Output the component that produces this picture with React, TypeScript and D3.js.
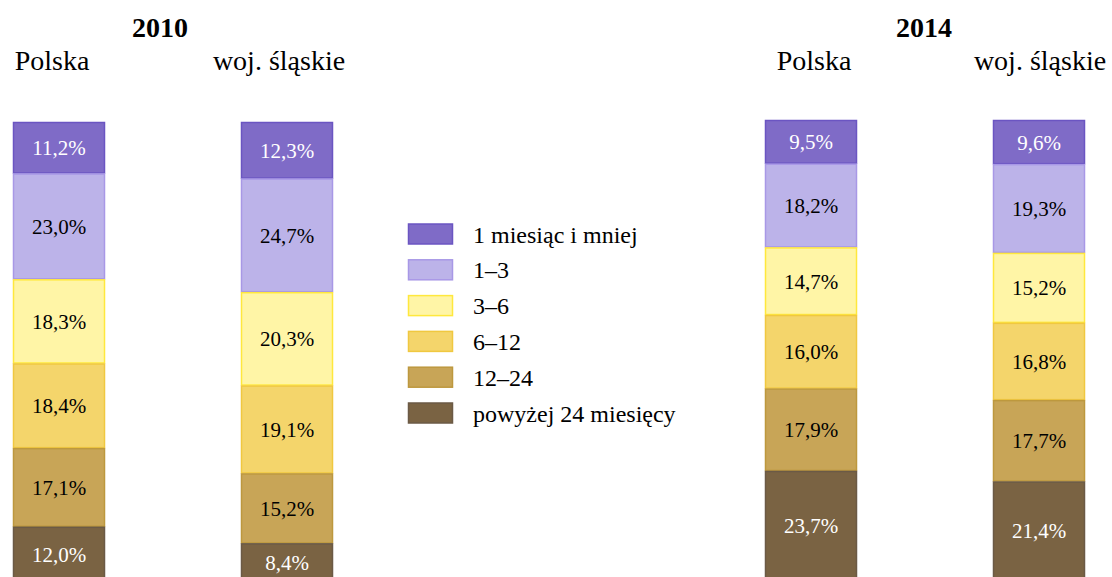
import React from 'react';
import * as d3 from 'd3';

const years = ['2010', '2014'];
const regions = ['Polska', 'woj. śląskie'];
const categories = ['1 miesiąc i mniej', '1–3', '3–6', '6–12', '12–24', 'powyżej 24 miesięcy'];

// shares per category, top to bottom
const pl2010 = [11.2, 23.0, 18.3, 18.4, 17.1, 12.0];
const sl2010 = [12.3, 24.7, 20.3, 19.1, 15.2, 8.4];
const pl2014 = [9.5, 18.2, 14.7, 16.0, 17.9, 23.7];
const sl2014 = [9.6, 19.3, 15.2, 16.8, 17.7, 21.4];

const fills = ['#7f6bc7', '#bcb3e9', '#fff5a6', '#f4d56b', '#c8a557', '#7a6343'];
const strokes = ['#6b55c2', '#a898e6', '#ffe83d', '#f0c840', '#bd983e', '#6b5a46'];
const labelColors = ['#fff', '#000', '#000', '#000', '#000', '#fff'];

const FONT = 'Liberation Serif, Times New Roman, serif';
const fmt = (v: number) => v.toFixed(1).replace('.', ',') + '%';

export default function App() {
  const width = 1112, height = 577;
  const series = [[pl2010, sl2010], [pl2014, sl2014]];

  const xYear = d3.scalePoint<string>().domain(years).range([13, 765]);
  const xRegion = d3.scalePoint<string>().domain(regions).range([0, 228]);
  const barW = 92;
  const topY: Record<string, number> = { '2010': 122, '2014': 120 };
  const y = d3.scaleLinear().domain([0, 100]).range([0, 460]);
  const titleX: Record<string, number> = { '2010': 160, '2014': 924 };
  const headShift: Record<string, number[]> = { '2010': [-7, -8], '2014': [3, 1] };

  const legendY = d3.scalePoint<string>().domain(categories).range([234, 413]);

  return (
    <svg width={width} height={height}
      style={{ position: 'absolute', left: 0, top: 0, background: '#fff' }}>
      {years.map((yr, yi) => {
        const gx = xYear(yr)!;
        return (
          <g key={yr}>
            <text x={titleX[yr]} y={37} textAnchor="middle" fontFamily={FONT}
              fontSize={28} fontWeight="bold">{yr}</text>
            {regions.map((rg, ri) => {
              const bx = gx + xRegion(rg)!;
              const vals = series[yi][ri];
              const stack = d3.cumsum([0, ...vals]);
              return (
                <g key={rg}>
                  <text x={bx + barW / 2 + headShift[yr][ri]} y={70} textAnchor="middle"
                    fontFamily={FONT} fontSize={28}>{rg}</text>
                  {vals.map((v, k) => {
                    const y0 = topY[yr] + y(stack[k]);
                    const h = y(v);
                    return (
                      <g key={k}>
                        <rect x={bx + 0.5} y={y0 + 0.5} width={barW - 1} height={h - 1}
                          fill={fills[k]} stroke={strokes[k]} strokeWidth={1.5} />
                        <text x={bx + barW / 2} y={y0 + h / 2 + 7.5} textAnchor="middle"
                          fontFamily={FONT} fontSize={21} fill={labelColors[k]}>{fmt(v)}</text>
                      </g>
                    );
                  })}
                </g>
              );
            })}
          </g>
        );
      })}
      {categories.map((c, k) => {
        const ly = legendY(c)!;
        return (
          <g key={c}>
            <rect x={408.5} y={ly - 10} width={44} height={20} fill={fills[k]} stroke={strokes[k]} strokeWidth={1.5} />
            <text x={473} y={ly + 8.5} fontFamily={FONT} fontSize={24}>{c}</text>
          </g>
        );
      })}
    </svg>
  );
}
